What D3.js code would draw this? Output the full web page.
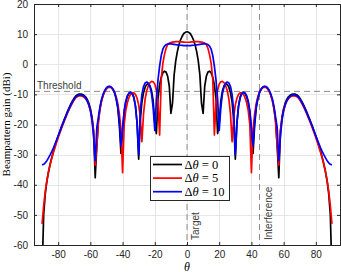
<!DOCTYPE html>
<html><head><meta charset="utf-8">
<script src="https://cdn.jsdelivr.net/npm/d3@7"></script>
<style>body{margin:0;background:#fff}svg{display:block}</style>
</head><body><svg id="c" width="341" height="272"></svg>
<script>
const angles = [
-90,-89,-88,-87,-86,-85,-84,-83,-82,-81,
-80,-79,-78,-77,-76,-75,-74,-73,-72,-71,
-70,-69,-68,-67,-66,-65,-64,-63,-62,-61,
-60,-59,-58,-57,-56,-55,-54,-53,-52,-51,
-50,-49,-48,-47,-46,-45,-44,-43,-42,-41,
-40,-39,-38,-37,-36,-35,-34,-33,-32,-31,
-30,-29,-28,-27,-26,-25,-24,-23,-22,-21,
-20,-19,-18,-17,-16,-15,-14,-13,-12,-11,
-10,-9,-8,-7,-6,-5,-4,-3,-2,-1,
0,
1,2,3,4,5,6,7,8,9,10,
11,12,13,14,15,16,17,18,19,20,
21,22,23,24,25,26,27,28,29,30,
31,32,33,34,35,36,37,38,39,40,
41,42,43,44,45,46,47,48,49,50,
51,52,53,54,55,56,57,58,59,60,
61,62,63,64,65,66,67,68,69,70,
71,72,73,74,75,76,77,78,79,80,
81,82,83,84,85,86,87,88,89,90];

const gain0 = [
-70.0,-50.0,-43.0,-38.8,-35.7,-33.2,-31.0,-29.0,-27.2,-25.5,
-23.8,-22.3,-20.8,-19.4,-18.0,-16.7,-15.4,-14.2,-13.1,-12.1,
-11.2,-10.5,-10.1,-9.9,-9.9,-10.0,-10.3,-10.8,-11.6,-12.9,
-14.7,-17.5,-22.0,-37.7,-27.3,-18.7,-14.6,-11.9,-10.1,-8.8,
-8.0,-7.5,-7.4,-7.7,-8.4,-9.5,-11.5,-14.5,-20.3,-29.6,
-21.5,-15.8,-12.6,-10.7,-9.7,-9.3,-9.5,-10.9,-13.8,-19.5,
-31.5,-18.6,-12.6,-9.5,-7.6,-6.7,-6.5,-7.1,-8.8,-12.2,
-19.5,-23.0,-11.3,-6.9,-4.3,-2.9,-2.3,-2.6,-4.0,-7.3,
-16.3,-12.9,-3.6,1.1,4.2,6.5,8.1,9.3,10.2,10.6,
10.8,
10.6,10.2,9.3,8.1,6.5,4.2,1.1,-3.6,-12.9,-16.3,
-7.3,-4.0,-2.6,-2.3,-2.9,-4.3,-6.9,-11.3,-23.0,-19.5,
-12.2,-8.8,-7.1,-6.5,-6.7,-7.6,-9.5,-12.6,-18.6,-31.5,
-19.5,-13.8,-10.9,-9.5,-9.3,-9.7,-10.7,-12.6,-15.8,-21.5,
-29.6,-20.3,-14.5,-11.5,-9.5,-8.4,-7.7,-7.4,-7.5,-8.0,
-8.8,-10.1,-11.9,-14.6,-18.7,-27.3,-37.7,-22.0,-17.5,-14.7,
-12.9,-11.6,-10.8,-10.3,-10.0,-9.9,-9.9,-10.1,-10.5,-11.2,
-12.1,-13.1,-14.2,-15.4,-16.7,-18.0,-19.4,-20.8,-22.3,-23.8,
-25.5,-27.2,-29.0,-31.0,-33.2,-35.7,-38.8,-43.0,-50.0,-70.0];

const gain5 = [
-53.0,-47.0,-42.2,-38.6,-35.8,-33.4,-31.3,-29.4,-27.7,-26.0,
-24.4,-22.9,-21.4,-20.0,-18.6,-17.3,-16.0,-14.8,-13.7,-12.7,
-11.8,-11.1,-10.7,-10.5,-10.5,-10.6,-10.9,-11.4,-12.2,-13.5,
-15.3,-18.0,-22.5,-33.5,-27.0,-18.9,-14.8,-12.1,-10.3,-9.0,
-8.2,-7.7,-7.6,-7.8,-8.3,-9.3,-10.8,-13.0,-16.5,-21.5,
-36.0,-20.0,-15.3,-12.7,-11.0,-10.0,-9.5,-9.5,-10.0,-11.3,
-13.5,-17.5,-25.7,-16.5,-11.6,-8.8,-7.1,-6.1,-5.7,-5.8,
-6.6,-8.6,-13.0,-23.5,-5.0,0.3,3.2,5.3,6.6,7.0,
7.2,7.35,7.45,7.5,7.5,7.5,7.45,7.4,7.35,7.3,
7.3,
7.3,7.35,7.4,7.45,7.5,7.5,7.5,7.45,7.35,7.2,
7.0,6.6,5.3,3.2,0.3,-5.0,-23.5,-13.0,-8.6,-6.6,
-5.8,-5.7,-6.1,-7.1,-8.8,-11.6,-16.5,-25.7,-17.5,-13.5,
-11.3,-10.0,-9.5,-9.5,-10.0,-11.0,-12.7,-15.3,-20.0,-36.0,
-21.5,-16.5,-13.0,-10.8,-9.3,-8.3,-7.8,-7.6,-7.7,-8.2,
-9.0,-10.3,-12.1,-14.8,-18.9,-27.0,-33.5,-22.5,-18.0,-15.3,
-13.5,-12.2,-11.4,-10.9,-10.6,-10.5,-10.5,-10.7,-11.1,-11.8,
-12.7,-13.7,-14.8,-16.0,-17.3,-18.6,-20.0,-21.4,-22.9,-24.4,
-26.0,-27.7,-29.4,-31.3,-33.4,-35.8,-38.6,-42.2,-47.0,-53.0];

const gain10 = [
-33.4,-33.2,-32.7,-32.0,-31.1,-30.1,-29.0,-27.8,-26.5,-25.2,
-23.8,-22.4,-21.0,-19.6,-18.3,-17.0,-15.7,-14.5,-13.4,-12.4,
-11.5,-10.8,-10.4,-10.2,-10.2,-10.3,-10.6,-11.2,-12.1,-13.4,
-15.4,-18.5,-24.0,-32.0,-21.0,-17.5,-14.0,-11.5,-9.8,-8.6,
-7.8,-7.4,-7.3,-7.6,-8.2,-9.3,-11.2,-14.0,-19.0,-27.0,
-21.5,-15.5,-12.2,-10.4,-9.5,-9.3,-9.8,-11.2,-14.0,-19.5,
-30.0,-15.5,-10.0,-7.4,-6.2,-5.9,-6.3,-7.5,-9.8,-14.5,
-22.0,-11.5,-5.2,-0.6,2.9,5.0,6.0,6.5,6.7,6.75,
6.75,6.7,6.6,6.5,6.4,6.35,6.3,6.25,6.2,6.2,
6.2,
6.2,6.2,6.25,6.3,6.35,6.4,6.5,6.6,6.7,6.75,
6.75,6.7,6.5,6.0,5.0,2.9,-0.6,-5.2,-11.5,-22.0,
-14.5,-9.8,-7.5,-6.3,-5.9,-6.2,-7.4,-10.0,-15.5,-30.0,
-19.5,-14.0,-11.2,-9.8,-9.3,-9.5,-10.4,-12.2,-15.5,-21.5,
-27.0,-19.0,-14.0,-11.2,-9.3,-8.2,-7.6,-7.3,-7.4,-7.8,
-8.6,-9.8,-11.5,-14.0,-17.5,-21.0,-32.0,-24.0,-18.5,-15.4,
-13.4,-12.1,-11.2,-10.6,-10.3,-10.2,-10.2,-10.4,-10.8,-11.5,
-12.4,-13.4,-14.5,-15.7,-17.0,-18.3,-19.6,-21.0,-22.4,-23.8,
-25.2,-26.5,-27.8,-29.0,-30.1,-31.1,-32.0,-32.7,-33.2,-33.4];

const seriesValues = ["0", "5", "10"];
const seriesColors = ["#000000", "#ff0000", "#0000ff"];
const xTicks = [-80, -60, -40, -20, 0, 20, 40, 60, 80];
const yTicks = [-60, -50, -40, -30, -20, -10, 0, 10, 20];
const thresholdLevel = -9;
const thresholdLabel = "Threshold";
const markerAngles = [0, 45];
const markerLabels = ["Target", "Interference"];

const svg = d3.select("#c");
const L = 34, R = 340, T = 4, B = 245;
const x = d3.scaleLinear().domain([-95, 95]).range([L, R]);
const y = d3.scaleLinear().domain([-60, 20]).range([B, T]);
const axisColor = "#262626";
const sans = "'Liberation Sans', Arial, sans-serif";
const serif = "'Liberation Serif', 'DejaVu Serif', serif";

// grid
const grid = svg.append("g");
grid.selectAll(".gx").data(xTicks).join("line")
  .attr("x1", d => Math.round(x(d)) + 0.5).attr("x2", d => Math.round(x(d)) + 0.5)
  .attr("y1", T).attr("y2", B).attr("stroke", "#e6e6e6").attr("stroke-width", 1);
grid.selectAll(".gy").data(yTicks).join("line")
  .attr("y1", d => Math.round(y(d)) + 0.5).attr("y2", d => Math.round(y(d)) + 0.5)
  .attr("x1", L).attr("x2", R).attr("stroke", "#e6e6e6").attr("stroke-width", 1);

svg.append("clipPath").attr("id", "clip").append("rect")
  .attr("x", L).attr("y", T).attr("width", R - L).attr("height", B - T);

// reference dashed lines
const ref = svg.append("g").attr("clip-path", "url(#clip)");
ref.append("line").attr("x1", L).attr("x2", R)
  .attr("y1", y(thresholdLevel)).attr("y2", y(thresholdLevel))
  .attr("stroke", "#8c8c8c").attr("stroke-width", 1).attr("stroke-dasharray", "6,4");
ref.selectAll(".mk").data(markerAngles).join("line")
  .attr("x1", d => x(d)).attr("x2", d => x(d)).attr("y1", T).attr("y2", B)
  .attr("stroke", "#8c8c8c").attr("stroke-width", 1).attr("stroke-dasharray", "6,4");

// curves
const series = [gain0, gain5, gain10];
const line = d3.line().x((d, i) => x(angles[i])).y(d => y(d));
const curves = svg.append("g").attr("clip-path", "url(#clip)");
series.forEach((s, k) => {
  curves.append("path").datum(s).attr("d", line)
    .attr("fill", "none").attr("stroke", seriesColors[k]).attr("stroke-width", 1.7)
    .attr("stroke-linejoin", "round");
});

// axes
const xb = svg.append("g").attr("transform", `translate(0,${B})`)
  .call(d3.axisBottom(x).tickValues(xTicks).tickSize(-3).tickPadding(6).tickFormat(d => d));
const xt = svg.append("g").attr("transform", `translate(0,${T})`)
  .call(d3.axisTop(x).tickValues(xTicks).tickSize(-3).tickFormat(""));
const yl = svg.append("g").attr("transform", `translate(${L},0)`)
  .call(d3.axisLeft(y).tickValues(yTicks).tickSize(-3).tickPadding(6).tickFormat(d => d));
const yr = svg.append("g").attr("transform", `translate(${R},0)`)
  .call(d3.axisRight(y).tickValues(yTicks).tickSize(-3).tickFormat(""));
[xb, xt, yl, yr].forEach(g => {
  g.select(".domain").attr("stroke", axisColor).attr("stroke-width", 1);
  g.selectAll(".tick line").attr("stroke", axisColor);
  g.selectAll("text").attr("fill", axisColor).style("font-family", sans).style("font-size", "10px");
});

// labels
svg.append("text").attr("x", 37).attr("y", 89).text(thresholdLabel)
  .attr("fill", "#404040").style("font-family", sans).style("font-size", "10px");
svg.append("text").attr("transform", `translate(198.5,240) rotate(-90)`).text(markerLabels[0])
  .attr("fill", "#404040").style("font-family", sans).style("font-size", "10px");
svg.append("text").attr("transform", `translate(272.3,240) rotate(-90)`).text(markerLabels[1])
  .attr("fill", "#404040").style("font-family", sans).style("font-size", "10px");

svg.append("text").attr("transform", `translate(10,124.5) rotate(-90)`)
  .attr("text-anchor", "middle").text("Beampattern gain (dBi)")
  .attr("fill", "#000").style("font-family", serif).style("font-size", "11px");
svg.append("text").attr("x", x(0)).attr("y", 270.5).attr("text-anchor", "middle")
  .text("θ").attr("fill", "#000").style("font-family", serif).style("font-size", "12px")
  .style("font-style", "italic");

// legend
const lg = svg.append("g");
lg.append("rect").attr("x", 150.5).attr("y", 156.5).attr("width", 79).attr("height", 44)
  .attr("fill", "#fff").attr("stroke", axisColor).attr("stroke-width", 1);
seriesValues.forEach((v, k) => {
  const yy = 164.5 + k * 13.6;
  lg.append("line").attr("x1", 153).attr("x2", 182).attr("y1", yy).attr("y2", yy)
    .attr("stroke", seriesColors[k]).attr("stroke-width", 1.7);
  const t = lg.append("text").attr("x", 184.5).attr("y", yy + 4.3)
    .style("font-family", serif).style("font-size", "12.5px").attr("fill", "#000");
  t.append("tspan").text("Δ");
  t.append("tspan").text("θ").style("font-style", "italic");
  t.append("tspan").text(" = " + v);
});
</script></body></html>
